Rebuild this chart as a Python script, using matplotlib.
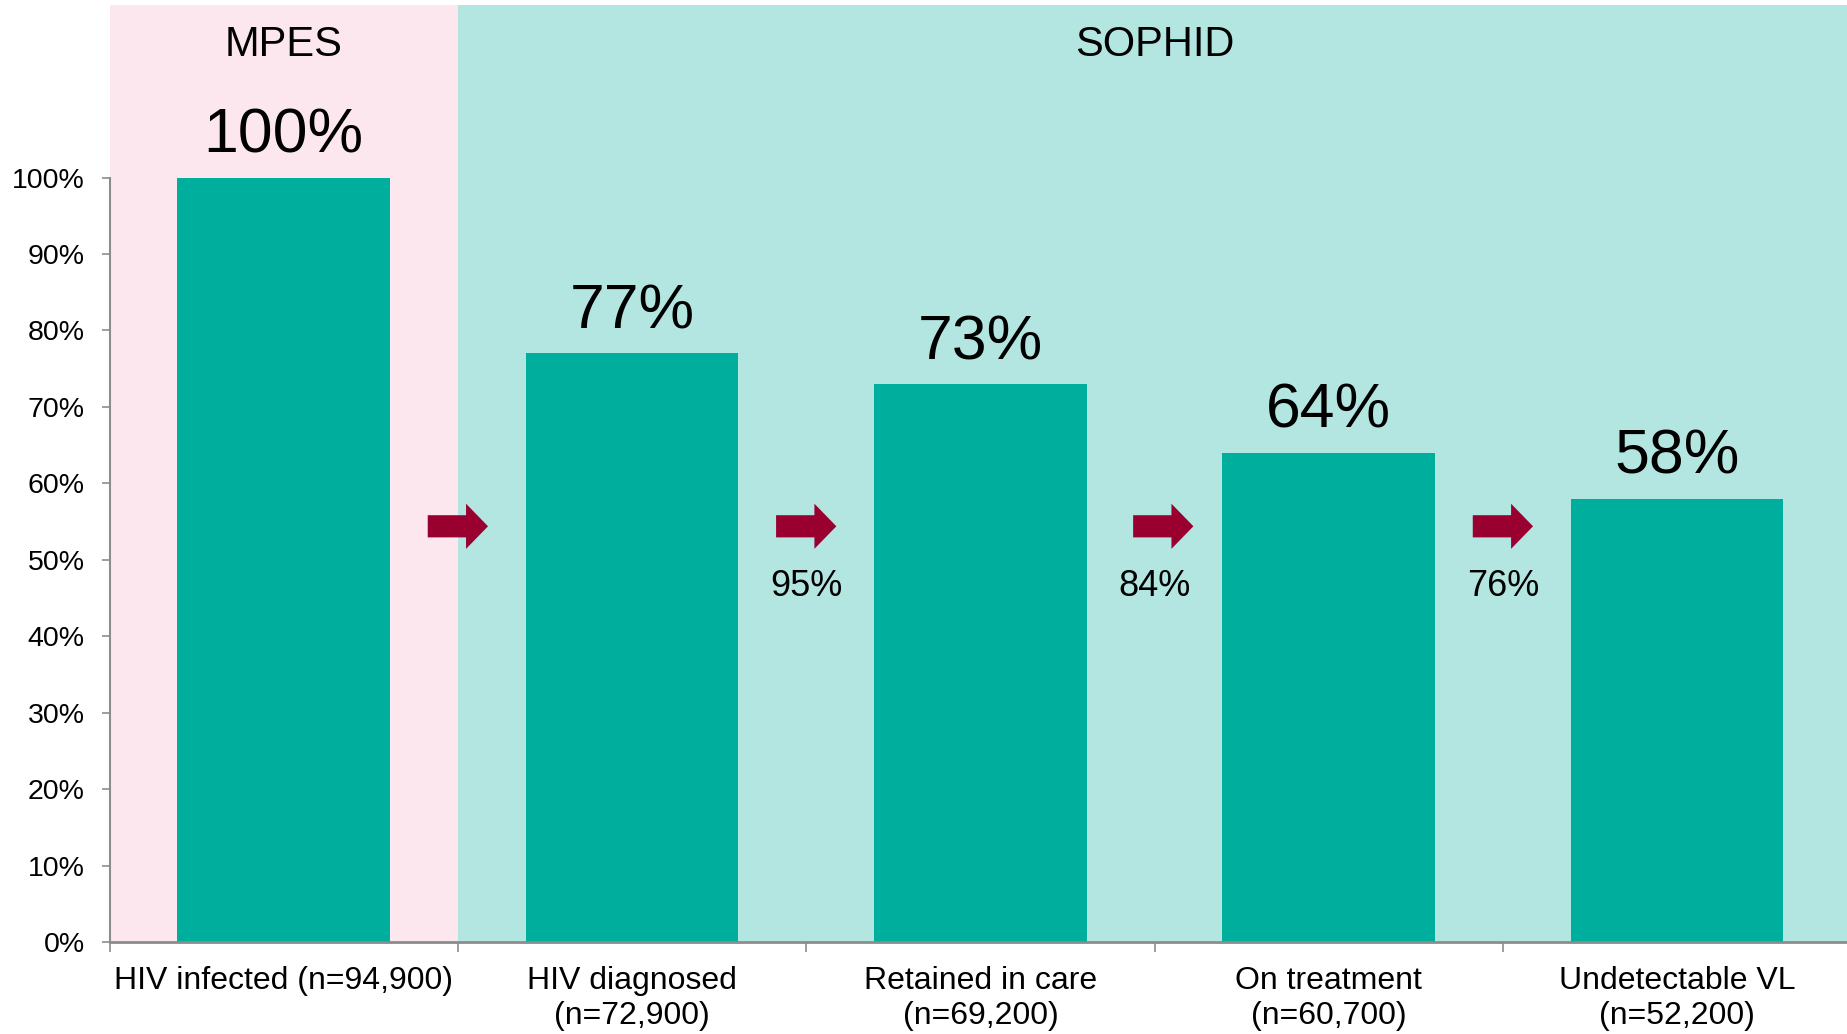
import matplotlib
matplotlib.use("Agg")
import matplotlib.pyplot as plt
from matplotlib.patches import FancyArrow

plt.rcParams['font.family'] = ['Liberation Sans', 'DejaVu Sans']

# ---- data ----
categories = ["HIV infected (n=94,900)", "HIV diagnosed\n(n=72,900)",
              "Retained in care\n(n=69,200)", "On treatment\n(n=60,700)",
              "Undetectable VL\n(n=52,200)"]
values = [100, 77, 73, 64, 58]
step_labels = ["", "95%", "84%", "76%"]
sections = ["MPES", "SOPHID"]
section_first = [0, 1]
section_last = [0, 4]
yticks = [0, 10, 20, 30, 40, 50, 60, 70, 80, 90, 100]
ytick_labels = [f"{t}%" for t in yticks]

# ---- style ----
bar_color = "#00AE9D"
pink = "#FDE7EE"
teal_bg = "#B3E5E1"
arrow_color = "#99002F"
axis_gray = "#8C8C8C"
section_colors = [pink, teal_bg]

fig = plt.figure(figsize=(18.47, 10.34), dpi=100)
ax = fig.add_axes([0.0593, 0.0886, 0.943, 0.9955 - 0.0886])

n = len(categories)
xs = list(range(n))
ax.set_xlim(-0.5, n - 0.5)
ax.set_ylim(0, 122.6)

# section backgrounds
for name, a, b, c in zip(sections, section_first, section_last, section_colors):
    ax.axvspan(a - 0.5, b + 0.5, color=c, zorder=0, lw=0)
    ax.text((a + b) / 2, 117.3, name, ha="center", va="center",
            fontsize=30, color="black")

# bars
ax.bar(xs, values, width=0.61, color=bar_color, zorder=2)

# value labels
for x, v in zip(xs, values):
    ax.annotate(f"{v}%", (x, v), xytext=(0, 18), textcoords="offset points",
                ha="center", va="baseline", fontsize=45)

# arrows and step labels
arrow_offsets = [0.0, 0.0, 0.025, 0.0]
for i, (lab, off) in enumerate(zip(step_labels, arrow_offsets)):
    xc = i + 0.5 + off
    L = 0.173
    arr = FancyArrow(xc - L / 2, 54.4, L, 0, width=2.9, head_width=5.9,
                     head_length=0.063, length_includes_head=True,
                     color=arrow_color, lw=0, zorder=3)
    ax.add_patch(arr)
    if lab:
        ax.text(i + 0.5, 46.5, lab, ha="center", va="center", fontsize=26)

# axes styling
for s in ["top", "right"]:
    ax.spines[s].set_visible(False)
ax.spines["left"].set_bounds(0, 100)
ax.spines["left"].set_color(axis_gray)
ax.spines["bottom"].set_color(axis_gray)
ax.spines["left"].set_linewidth(1.5)
ax.spines["bottom"].set_linewidth(2)

ax.set_yticks(yticks)
ax.set_yticklabels(ytick_labels, fontsize=20.5)
ax.tick_params(axis="y", length=6, width=1.2, color=axis_gray, pad=12)

ax.set_xticks([x - 0.5 for x in xs])
ax.set_xticklabels([])
ax.tick_params(axis="x", which="major", length=7, width=1.2, color=axis_gray)
ax.set_xticks(xs, minor=True)
ax.set_xticklabels(categories, minor=True, fontsize=23, linespacing=1.2)
ax.tick_params(axis="x", which="minor", length=0, pad=17)

fig.savefig("out.png", dpi=100, facecolor="white")
